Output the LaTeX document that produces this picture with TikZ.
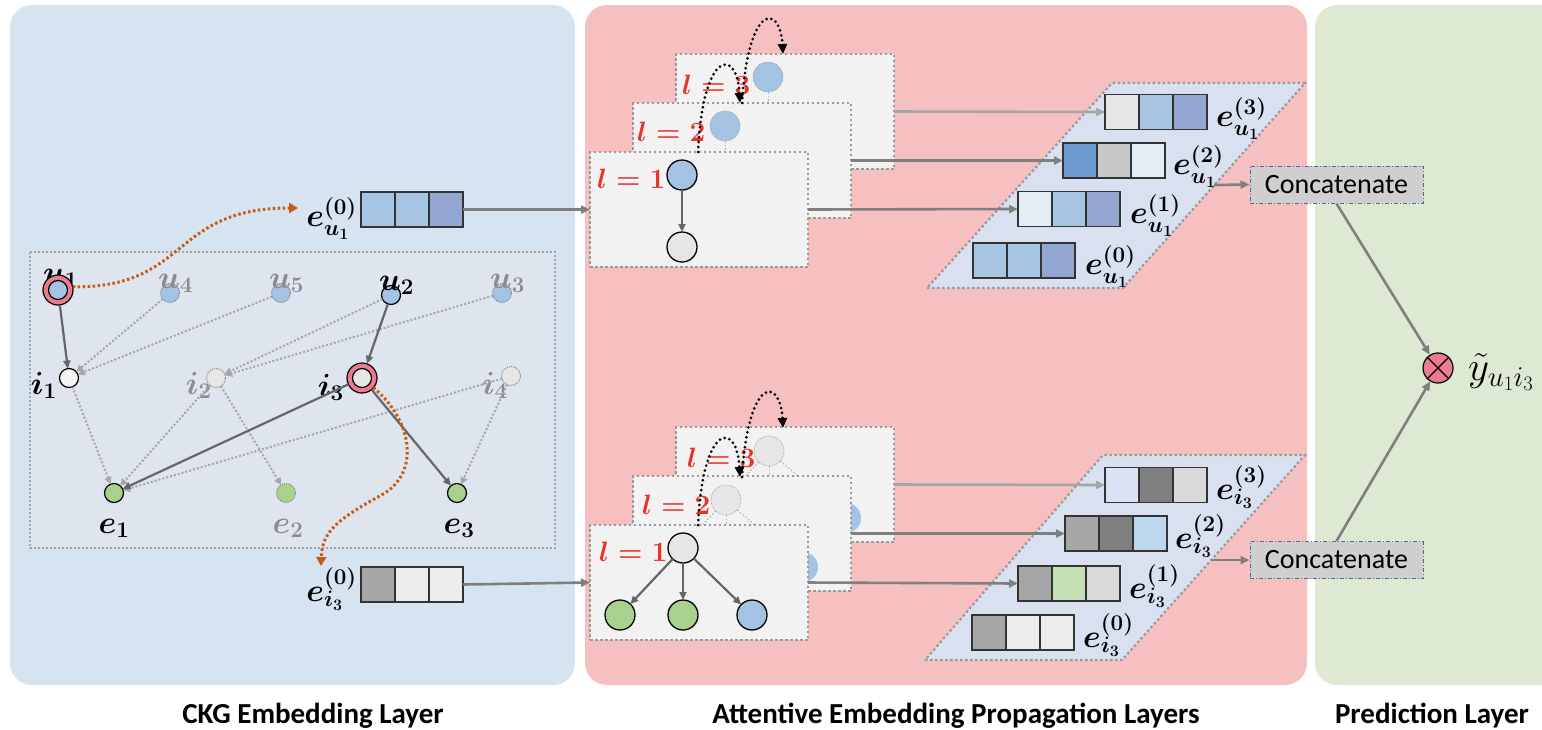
\RequirePackage{fix-cm}
\documentclass[tikz,border=0pt]{standalone}
\usepackage[no-math]{fontspec}
\newfontfamily\carl{Carlito}
\usetikzlibrary{arrows.meta}
\definecolor{pblue}{HTML}{D6E3F0}
\definecolor{ppink}{HTML}{F6C0C1}
\definecolor{pgreen}{HTML}{DDE9D2}
\definecolor{gbox}{HTML}{DEE5EF}
\definecolor{pfill}{HTML}{D9E1F0}
\definecolor{nblue}{HTML}{A4C2E3}
\definecolor{ngreen}{HTML}{A9D18E}
\definecolor{ngray}{HTML}{E7E6E6}
\definecolor{nwhite}{HTML}{F4F4F4}
\definecolor{npink}{HTML}{EC7C8C}
\definecolor{orng}{HTML}{C55A11}
\definecolor{lred}{HTML}{E8332A}
\definecolor{lbox}{HTML}{F2F2F2}
\definecolor{dgray}{HTML}{666666}
\definecolor{mgray}{HTML}{7F7F7F}
\definecolor{lgray}{HTML}{A6A6A6}
\definecolor{labgray}{HTML}{8C8C8C}
\definecolor{cellA}{HTML}{A6C5E2}
\definecolor{cellB}{HTML}{93A6D2}
\definecolor{cellC}{HTML}{6A9ACF}
\definecolor{cellD}{HTML}{E4ECF6}
\definecolor{cellE}{HTML}{C8C8C8}
\definecolor{cellF}{HTML}{E6E6E6}
\definecolor{cellG}{HTML}{A6A6A6}
\definecolor{cellH}{HTML}{EDEDED}
\definecolor{cellI}{HTML}{7F7F7F}
\definecolor{cellJ}{HTML}{D9D9D9}
\definecolor{cellK}{HTML}{BDD7EE}
\definecolor{cellL}{HTML}{C5E0B4}
\definecolor{cellM}{HTML}{DAE3F3}
\definecolor{catfill}{HTML}{D0CECE}
\definecolor{catline}{HTML}{4A6A9A}
\newcommand\evec[5]{%
  \node[cell,fill=#3,anchor=west] (#1a) at #2 {};
  \node[cell,fill=#4,anchor=west] (#1b) at (#1a.east) {};
  \node[cell,fill=#5,anchor=west] (#1c) at (#1b.east) {};}
\begin{document}
\begin{tikzpicture}[x=1pt,y=-1pt,
  lab/.style={font=\fontsize{32}{34}\selectfont\boldmath, inner sep=0pt},
  glab/.style={lab, text=labgray},
  llab/.style={font=\fontsize{28}{30}\selectfont\boldmath, text=lred, inner sep=0pt, anchor=base west},
  bn/.style={circle, draw=black, line width=1.2pt, minimum size=19pt, inner sep=0pt, outer sep=0pt},
  dn/.style={circle, draw=gray, line width=0.9pt, dash pattern=on 1pt off 1pt, minimum size=19pt, inner sep=0pt, outer sep=0pt},
  ring/.style={circle, draw=black, line width=1.2pt, fill=npink, minimum size=30pt, inner sep=0pt, outer sep=0pt},
  big/.style={circle, draw=black, line width=1.3pt, minimum size=30pt, inner sep=0pt, outer sep=0pt},
  fbig/.style={circle, draw=gray!70, line width=0.7pt, dash pattern=on 1pt off 1pt, minimum size=30pt, inner sep=0pt, outer sep=0pt},
  hbig/.style={circle, minimum size=30pt, inner sep=0pt, outer sep=0pt},
  sedge/.style={draw=dgray, line width=2.2pt, -{Triangle[length=8pt,width=7pt]}},
  gedge/.style={draw=lgray, line width=2pt, dash pattern=on 2pt off 2pt, -{Triangle[length=7pt,width=7pt]}},
  fedge/.style={draw=gray!60, line width=1pt, dash pattern=on 1.5pt off 2pt},
  oarc/.style={draw=orng, line width=3pt, dash pattern=on 2.5pt off 2.5pt, -{Triangle[length=9pt,width=10pt]}},
  karc/.style={draw=black, line width=3pt, dash pattern=on 0pt off 5pt, line cap=round, -{Triangle[length=10pt,width=9pt]}},
  flow/.style={draw=mgray, line width=2.6pt, -{Triangle[length=9pt,width=8pt]}},
  flowl/.style={draw=lgray, line width=2.6pt, -{Triangle[length=9pt,width=8pt]}},
  cell/.style={draw=black!80, line width=1.6pt, minimum width=34pt, minimum height=35pt, inner sep=0pt, outer sep=0pt},
  layerbox/.style={fill=lbox, draw=gray!80, line width=2.4pt, dash pattern=on 2.5pt off 2.5pt, minimum width=218pt, minimum height=115pt, inner sep=0pt, outer sep=0pt},
  catbox/.style={fill=catfill, draw=catline, line width=1pt, dash pattern=on 4pt off 2pt on 1pt off 2pt, minimum width=173pt, minimum height=37pt, inner sep=0pt, font=\carl\fontsize{28}{30}\selectfont},
  title/.style={font=\carl\bfseries\fontsize{29}{31}\selectfont, anchor=base, inner sep=0pt}
]
\useasboundingbox (0,0) rectangle (1542,729);
\clip (0,0) rectangle (1542,729);
% panels
\fill[pblue, rounded corners=22pt] (10,5) rectangle (575,685);
\fill[ppink, rounded corners=22pt] (585,5) rectangle (1307,685);
\fill[pgreen, rounded corners=22pt] (1315,5) rectangle (1580,685);
\node[title] (t1) at (313,723) {CKG Embedding Layer};
\node[title] (t2) at (956,723) {Attentive Embedding Propagation Layers};
\node[title] (t3) at (1432,723) {Prediction Layer};

% ---------------- CKG graph ----------------
\draw[fill=gbox, draw=gray!70, line width=2pt, dash pattern=on 2pt off 2pt] (30,252) rectangle (555,548);
\node[lab, anchor=base west] (u1l) at (43,283) {$u_1$};
\node[ring] (u1) at (58,290) {};
\node[bn, fill=nblue] (u1i) at (58,290) {};
\node[dn, fill=nblue] (u4) at (170,293) {};
\node[dn, fill=nblue] (u5) at (281,293) {};
\node[bn, fill=nblue] (u2) at (391,295) {};
\node[dn, fill=nblue] (u3) at (502,293) {};
\node[bn, fill=nwhite] (i1) at (69,378) {};
\node[dn, fill=ngray] (i2) at (216,378) {};
\node[ring] (i3) at (362,378) {};
\node[bn, fill=ngray] (i3i) at (362,378) {};
\node[dn, fill=ngray] (i4) at (511,376) {};
\node[bn, fill=ngreen] (e1) at (114,493) {};
\node[dn, fill=ngreen] (e2) at (286,493) {};
\node[bn, fill=ngreen] (e3) at (457,493) {};
\node[glab, anchor=base west] (u4l) at (158,288) {$u_4$};
\node[glab, anchor=base west] (u5l) at (269,288) {$u_5$};
\node[lab, anchor=base west] (u2l) at (379,290) {$u_2$};
\node[glab, anchor=base west] (u3l) at (490,288) {$u_3$};
\node[lab, anchor=base east] (i1l) at (57,394) {$i_1$};
\node[glab, anchor=base east] (i2l) at (212,394) {$i_2$};
\node[lab, anchor=base east] (i3l) at (344,396) {$i_3$};
\node[glab, anchor=base east] (i4l) at (508,394) {$i_4$};
\node[lab, anchor=base] (e1l) at (114,533) {$e_1$};
\node[glab, anchor=base] (e2l) at (288,533) {$e_2$};
\node[lab, anchor=base] (e3l) at (459,533) {$e_3$};
% dotted edges
\draw[gedge] (u4) -- (i1);
\draw[gedge] (u5) -- (i1);
\draw[gedge] (u2) -- (i2);
\draw[gedge] (u3) -- (i2);
\draw[gedge] (i1) -- (e1);
\draw[gedge] (i2) -- (e1);
\draw[gedge] (i2) -- (e2);
\draw[gedge] (i4) -- (e1);
\draw[gedge] (i4) -- (e3);
% solid edges
\draw[sedge] (u1) -- (i1);
\draw[sedge] (u2) -- (i3);
\draw[sedge] (i3) -- (e1);
\draw[sedge] (i3) -- (e3);

% ---------------- initial embeddings ----------------
\evec{eu0}{(361,209.5)}{cellA}{cellA}{cellB}
\node[lab, anchor=base east] (eu0l) at (357,226) {$e_{u_1}^{(0)}$};
\evec{ei0}{(361,584.5)}{cellG}{cellH}{cellH}
\node[lab, anchor=base east] (ei0l) at (357,601) {$e_{i_3}^{(0)}$};
\coordinate (ou) at (298,208);
\coordinate (oi) at (321,566);
\coordinate (oim) at (385,493);
\draw[oarc] (u1.12) .. controls (190,288) and (170,208) .. (ou);
\draw[oarc] (i3.-40) .. controls (412,420) and (420,470) .. (oim) .. controls (340,518) and (322,530) .. (oi);

% ---------------- top propagation stack ----------------
\node[layerbox] (TL3) at (785,111.5) {};
\node[fbig, fill=nblue] (TB3) at (768,77) {};
\coordinate (TB3c) at (768,150);
\draw[fedge] (TB3) -- (TB3c);
\node[llab] (TL3l) at (682,94) {$l=3$};
\node[layerbox] (TL2) at (742,160.5) {};
\node[fbig, fill=nblue] (TB2) at (725,126) {};
\coordinate (TB2c) at (725,200);
\draw[fedge] (TB2) -- (TB2c);
\node[llab] (TL2l) at (637,141) {$l=2$};
\node[layerbox] (TL1) at (699,209.5) {};
\node[big, fill=nblue] (TB1) at (682,175) {};
\node[big, fill=ngray] (TG1) at (682,247) {};
\draw[sedge] (TB1) -- (TG1);
\node[llab] (TL1l) at (597,188) {$l=1$};
\coordinate (ta1) at (698,152);
\coordinate (ta2) at (740,103);
\coordinate (ta3) at (742,103);
\coordinate (ta4) at (783,54);
\draw[karc] (ta1) .. controls (703,48) and (737,48) .. (ta2);
\draw[karc] (ta3) .. controls (748,3) and (780,3) .. (ta4);

% ---------------- bottom propagation stack ----------------
\node[layerbox] (BL3) at (785,484.5) {};
\node[fbig, fill=ngray] (BR3) at (769,451) {};
\node[hbig, fill=ngreen] (BC31) at (706,518) {};
\node[hbig, fill=ngreen] (BC32) at (769,518) {};
\node[hbig, fill=nblue] (BC33) at (846,518) {};
\draw[fedge] (BR3) -- (BC31);
\draw[fedge] (BR3) -- (BC32);
\draw[fedge] (BR3) -- (BC33);
\node[llab] (BL3l) at (687,467) {$l=3$};
\node[layerbox] (BL2) at (742,533.5) {};
\node[fbig, fill=ngray] (BR2) at (726,500) {};
\node[hbig, fill=ngreen] (BC21) at (663,567) {};
\node[hbig, fill=ngreen] (BC22) at (726,567) {};
\node[hbig, fill=nblue] (BC23) at (803,567) {};
\draw[fedge] (BR2) -- (BC21);
\draw[fedge] (BR2) -- (BC22);
\draw[fedge] (BR2) -- (BC23);
\node[llab] (BL2l) at (642,514) {$l=2$};
\node[layerbox] (BL1) at (699,582.5) {};
\node[big, fill=ngray] (BR1) at (683,548) {};
\node[big, fill=ngreen] (BC11) at (620,615) {};
\node[big, fill=ngreen] (BC12) at (683,615) {};
\node[big, fill=nblue] (BC13) at (752,615) {};
\draw[sedge] (BR1) -- (BC11);
\draw[sedge] (BR1) -- (BC12);
\draw[sedge] (BR1) -- (BC13);
\node[llab] (BL1l) at (599,561) {$l=1$};
\coordinate (ba1) at (698,525);
\coordinate (ba2) at (740,477);
\coordinate (ba3) at (742,477);
\coordinate (ba4) at (783,428);
\draw[karc] (ba1) .. controls (703,421) and (737,421) .. (ba2);
\draw[karc] (ba3) .. controls (748,376) and (780,376) .. (ba4);

% input arrows
\draw[flow] (eu0c.east) -- (TL1.west);
\draw[flow] (ei0c.east) -- (BL1.west);

% ---------------- parallelograms ----------------
\draw[fill=pfill, draw=gray!80, line width=2.2pt, dash pattern=on 2.5pt off 2.5pt] (927,288) -- (1123,288) -- (1305,83) -- (1112,83) -- cycle;
\evec{pu3}{(1105,112)}{cellF}{cellA}{cellB}
\evec{pu2}{(1063,160.5)}{cellC}{cellE}{cellD}
\evec{pu1}{(1018,209)}{cellD}{cellA}{cellB}
\evec{pu0}{(973,260.5)}{cellA}{cellA}{cellB}
\node[lab, anchor=base west] (pu3l) at (1216,126) {$e_{u_1}^{(3)}$};
\node[lab, anchor=base west] (pu2l) at (1173,174) {$e_{u_1}^{(2)}$};
\node[lab, anchor=base west] (pu1l) at (1130,223) {$e_{u_1}^{(1)}$};
\node[lab, anchor=base west] (pu0l) at (1085,274) {$e_{u_1}^{(0)}$};
\draw[fill=pfill, draw=gray!80, line width=2.2pt, dash pattern=on 2.5pt off 2.5pt] (925,660) -- (1122,660) -- (1305,455) -- (1103,455) -- cycle;
\evec{pi3}{(1105,485)}{cellM}{cellI}{cellJ}
\evec{pi2}{(1065,533.5)}{cellG}{cellI}{cellK}
\evec{pi1}{(1018,583.5)}{cellG}{cellL}{cellJ}
\evec{pi0}{(972,632.5)}{cellG}{cellH}{cellH}
\node[lab, anchor=base west] (pi3l) at (1216,499) {$e_{i_3}^{(3)}$};
\node[lab, anchor=base west] (pi2l) at (1175,548) {$e_{i_3}^{(2)}$};
\node[lab, anchor=base west] (pi1l) at (1129,598) {$e_{i_3}^{(1)}$};
\node[lab, anchor=base west] (pi0l) at (1083,647) {$e_{i_3}^{(0)}$};

% layer outputs
\draw[flowl] (TL3.east) -- (pu3a.west);
\draw[flow] (TL2.east) -- (pu2a.west);
\draw[flow] (TL1.east) -- (pu1a.west);
\draw[flowl] (BL3.east) -- (pi3a.west);
\draw[flow] (BL2.east) -- (pi2a.west);
\draw[flow] (BL1.east) -- (pi1a.west);

% ---------------- prediction ----------------
\node[catbox] (cat1) at (1336.5,184.5) {Concatenate};
\node[catbox] (cat2) at (1336.5,560) {Concatenate};
\coordinate (pr1) at (1214,185);
\coordinate (pr2) at (1211,560);
\draw[flow] (pr1) -- (cat1.west);
\draw[flow] (pr2) -- (cat2.west);
\node[circle, draw=black, line width=1.2pt, fill=npink, minimum size=30pt, inner sep=0pt] (ot) at (1438,368) {};
\draw[line width=1.2pt] (ot.45) -- (ot.225) (ot.135) -- (ot.315);
\draw[flow] (cat1.south) -- (ot);
\draw[flow] (cat2.north) -- (ot);
\node[anchor=west, inner sep=0pt, font=\fontsize{41}{43}\selectfont] (yt) at (1468,372) {$\tilde{y}_{u_1 i_3}$};
\end{tikzpicture}
\end{document}
